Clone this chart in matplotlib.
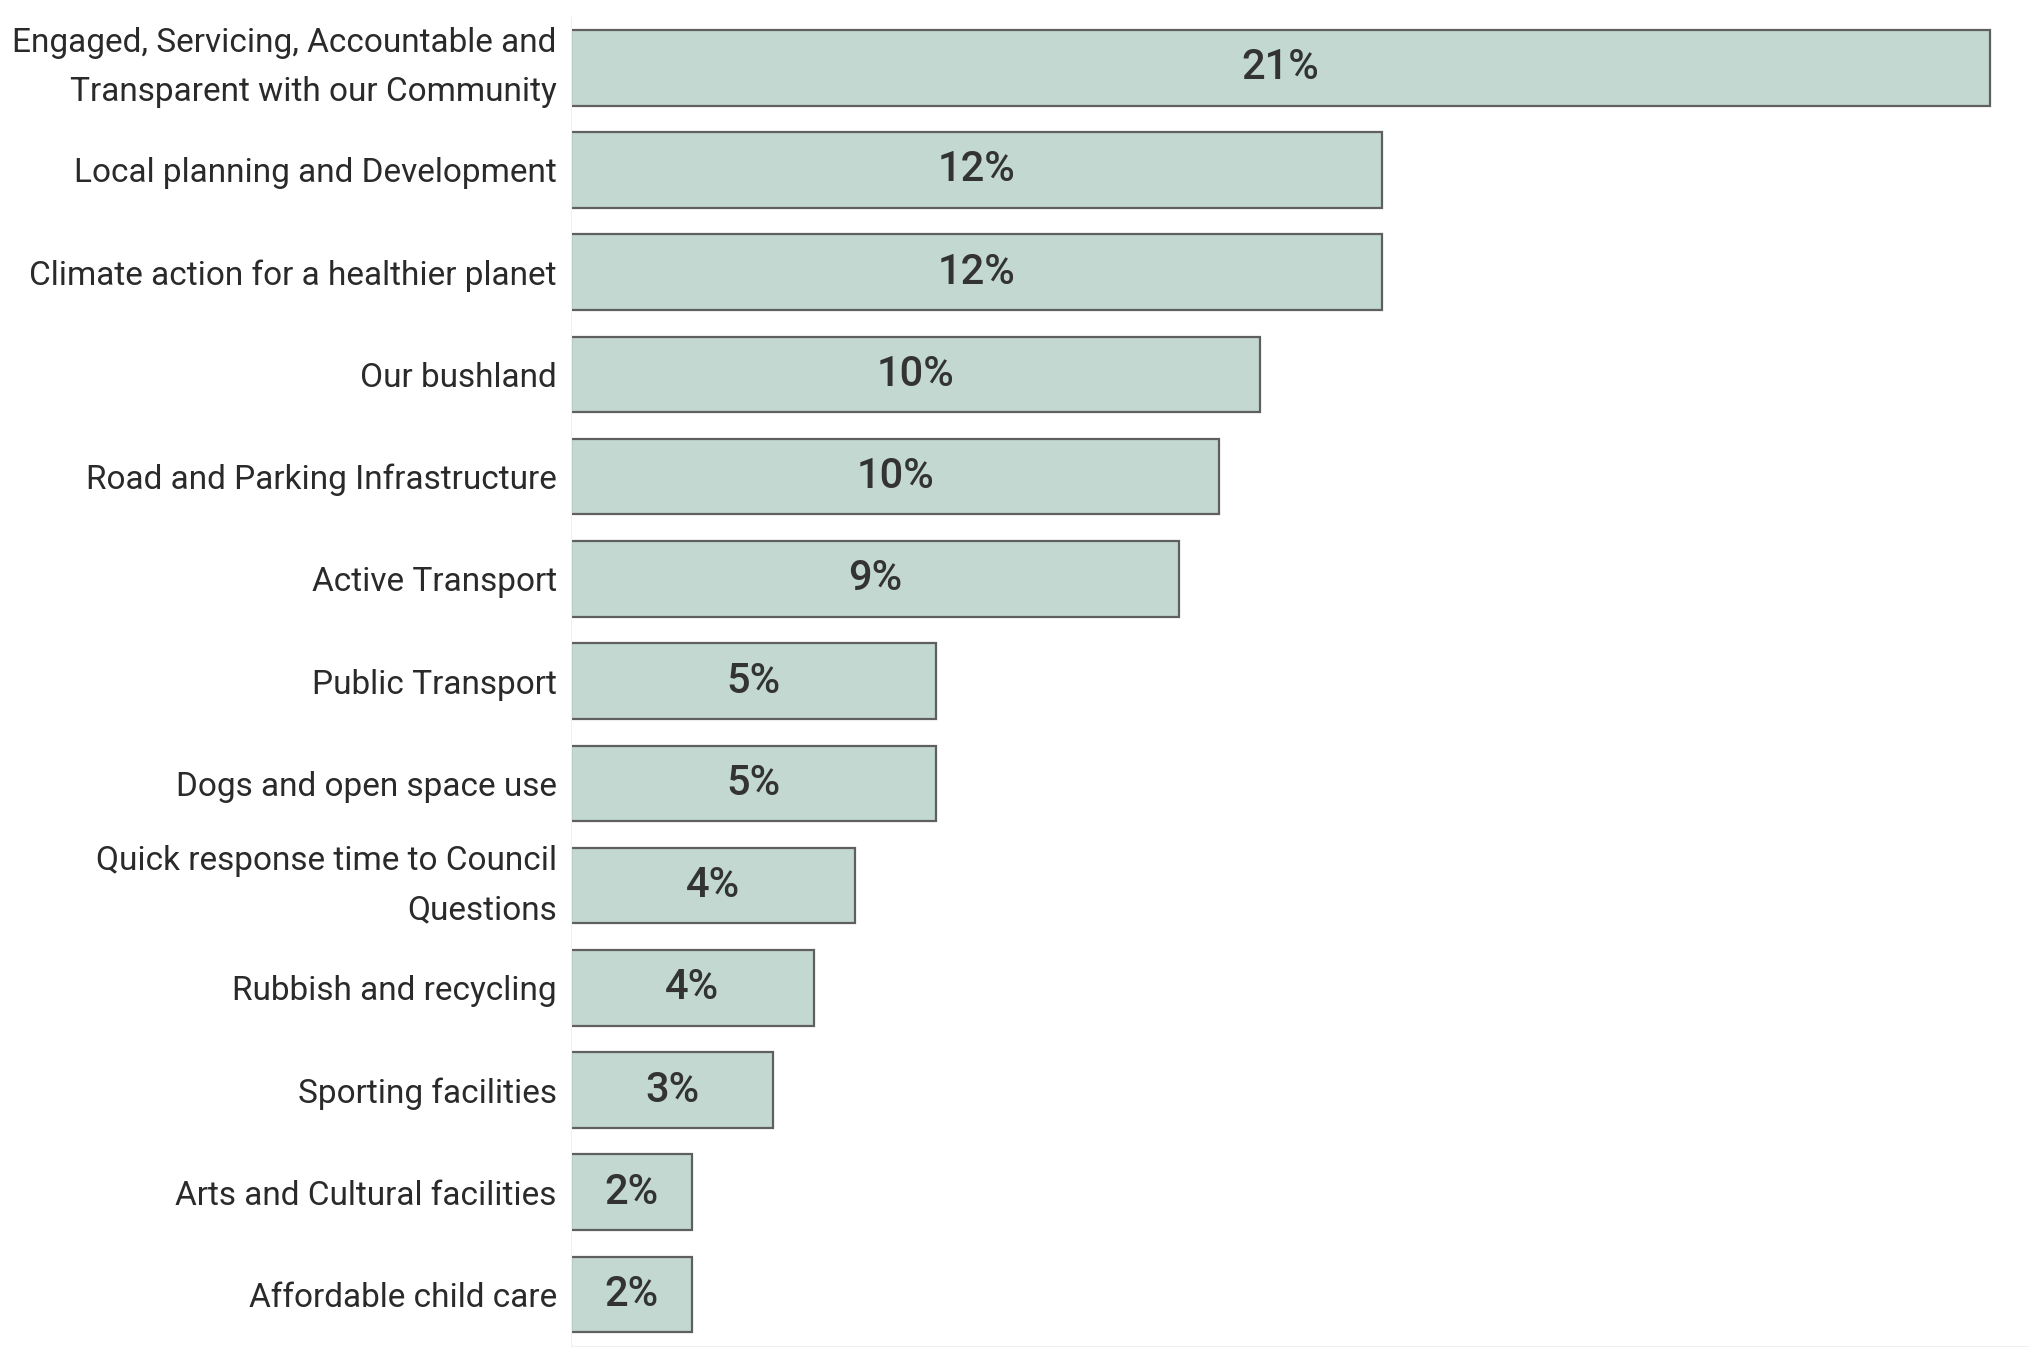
import numpy as np
import matplotlib.pyplot as plt

categories = [
    "Engaged, Servicing, Accountable and\nTransparent with our Community",
    "Local planning and Development",
    "Climate action for a healthier planet",
    "Our bushland",
    "Road and Parking Infrastructure",
    "Active Transport",
    "Public Transport",
    "Dogs and open space use",
    "Quick response time to Council\nQuestions",
    "Rubbish and recycling",
    "Sporting facilities",
    "Arts and Cultural facilities",
    "Affordable child care",
]
shares = [21.0, 12.0, 12.0, 10.2, 9.6, 9.0, 5.4, 5.4, 4.2, 3.6, 3.0, 1.8, 1.8]

bar_color = "#c2d8d0"
edge_color = "#5f5f5f"
text_color = "#333333"

fig = plt.figure(figsize=(20.38, 13.58), dpi=100)
ax = fig.add_axes([0.28, 0.0091, 0.995 - 0.28, 0.9878 - 0.0091])

y = np.arange(len(categories))
bars = ax.barh(y, shares, height=0.74, color=bar_color,
               edgecolor=edge_color, linewidth=1.6)

for b, v in zip(bars, shares):
    ax.text(v / 2, b.get_y() + b.get_height() / 2, f"{v:.0f}%",
            ha="center", va="center", fontsize=30, color=text_color,
            family="Roboto", fontweight="medium")

ax.set_ylim(len(categories) - 0.5, -0.5)
ax.set_xlim(0, 21.56)
ax.set_yticks(y)
ax.set_yticklabels(categories, fontsize=24, color="#2a2a2a",
                   family="Roboto", linespacing=1.7)
for lab in ax.get_yticklabels():
    if "\n" in lab.get_text():
        lab.set_va("center")
ax.tick_params(axis="y", length=0, pad=10)
ax.set_xticks([])

for side in ["top", "right"]:
    ax.spines[side].set_visible(False)
ax.spines["left"].set_color("#f0f0f0")
ax.spines["bottom"].set_color("#f0f0f0")

fig.savefig("out.png", dpi=100)
